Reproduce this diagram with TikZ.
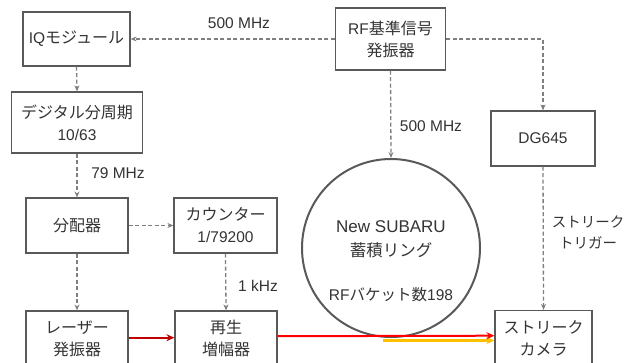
\documentclass[tikz,border=0pt]{standalone}
\usepackage{fontspec}
\setmainfont{Liberation Sans}
\newfontfamily\jp{Noto Sans CJK JP}
\usetikzlibrary{arrows.meta}
\definecolor{boxgray}{HTML}{595959}
\definecolor{siggray}{HTML}{7F7F7F}
\definecolor{seedred}{HTML}{C00000}
\definecolor{ampred}{HTML}{FF0000}
\definecolor{lightyel}{HTML}{FFC000}

\begin{document}
\begin{tikzpicture}[x=1pt,y=-1pt]
\tikzstyle{every node}+=[inner sep=0pt, text=black!80, font=\fontsize{15.5}{22}\selectfont]
\tikzstyle{block}=[draw=boxgray, line width=1.2pt, align=center]
\tikzstyle{jpblock}=[block, font=\jp\fontsize{16}{22}\selectfont]
\tikzstyle{sig}=[draw=siggray, line width=1.3pt, dash pattern=on 4pt off 2.5pt, -{Stealth[length=6pt,width=5pt]}]
\tikzstyle{beam}=[line width=2pt, -{Stealth[length=8pt,width=7pt]}]
\useasboundingbox (0,0) rectangle (626,362);
\clip (0,0) rectangle (626,362);
\node [block, minimum width=107pt, minimum height=54pt] (iq) at (76.5,39) {IQ{\jp\fontsize{16}{22}\selectfont モジュール}};
\node [block, minimum width=131pt, minimum height=61pt] (div) at (77,122.5) {{\jp\fontsize{16}{22}\selectfont デジタル分周期}\\10/63};
\node [jpblock, minimum width=102pt, minimum height=55pt] (dist) at (77,225.5) {分配器};
\node [block, minimum width=103pt, minimum height=55pt] (cnt) at (225.5,225.5) {{\jp\fontsize{16}{22}\selectfont カウンター}\\1/79200};
\node [jpblock, minimum width=102pt, minimum height=55pt] (laser) at (77,338.5) {レーザー\\発振器};
\node [jpblock, minimum width=102pt, minimum height=55pt] (amp) at (226,338.5) {再生\\増幅器};
\node [block, minimum width=110pt, minimum height=62pt] (rf) at (390.5,39) {RF{\jp\fontsize{16}{22}\selectfont 基準信号}\\{\jp\fontsize{16}{22}\selectfont 発振器}};
\node [block, minimum width=104pt, minimum height=55pt] (dg) at (543,138.5) {DG645};
\node [jpblock, minimum width=97pt, minimum height=55pt] (cam) at (543.5,338) {ストリーク\\カメラ};
\node [circle, draw=boxgray, line width=2pt, minimum size=178pt] (ring) at (391,248) {};
\node (ringname) at (391,227) {\fontsize{17}{20}\selectfont New SUBARU};
\node (ringjp) at (391,250) {\jp\fontsize{16.5}{20}\selectfont 蓄積リング};
\node (bucket) at (391,295) {RF{\jp バケット数}198};
\draw [sig] (rf.west) -- (iq.east);
\draw [sig] (rf.east) -| (dg.north);
\draw [sig] (rf.south) -- (ring.north);
\draw [sig] (iq.south) -- (div.north);
\draw [sig] (div.south) -- (dist.north);
\draw [sig] (dist.east) -- (cnt.west);
\draw [sig] (dist.south) -- (laser.north);
\draw [sig] (cnt.south) -- (amp.north);
\draw [sig] (dg.south) -- (cam.north);
\node (f500a) at (239,23) {500 MHz};
\node (f500b) at (431,126) {500 MHz};
\node (f79) at (118,173) {79 MHz};
\node (f1k) at (258,286) {1 kHz};
\node [align=center, font=\jp\fontsize{14.5}{21}\selectfont] (trig) at (588,232) {ストリーク\\トリガー};
\coordinate (light) at (383,340.5);
\draw [beam, draw=lightyel, fill=lightyel, line width=3pt] (light) -- ([yshift=-2.5pt]cam.west);
\draw [beam, draw=ampred, fill=ampred] ([yshift=2.3pt]amp.east) -- ([yshift=2.3pt]cam.west);
\draw [beam, draw=seedred, fill=seedred] ([yshift=0.8pt]laser.east) -- ([yshift=0.8pt]amp.west);
\end{tikzpicture}
\end{document}
